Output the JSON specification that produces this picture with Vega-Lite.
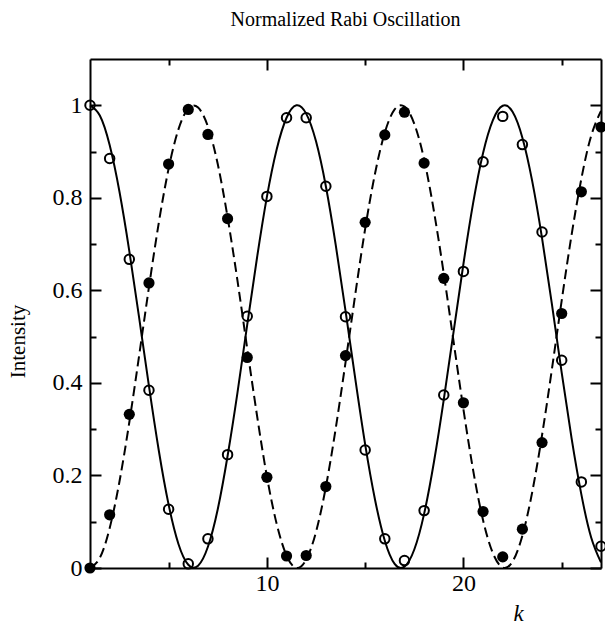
{
  "$schema": "https://vega.github.io/schema/vega-lite/v6.json",
  "width": 511,
  "height": 509,
  "autosize": {"type": "none"},
  "padding": {"left": 90, "top": 59, "right": 4, "bottom": 58},
  "background": "white",
  "config": {
    "view": {"stroke": null},
    "font": "Liberation Serif",
    "axis": {
      "grid": false,
      "domainColor": "black",
      "domainWidth": 2,
      "tickColor": "black",
      "tickWidth": 2,
      "labelFont": "Liberation Serif",
      "labelFontSize": 24,
      "labelColor": "black",
      "titleFont": "Liberation Serif",
      "titleColor": "black",
      "titleFontWeight": "normal"
    }
  },
  "title": {
    "text": "Normalized Rabi Oscillation",
    "font": "Liberation Serif",
    "fontSize": 20,
    "fontWeight": "normal",
    "color": "black",
    "anchor": "middle",
    "frame": "group",
    "offset": 28
  },
  "datasets": {
    "theory": [
      {"k": 1, "p": 1.0, "q": 0.0},
      {"k": 1.5, "p": 0.978, "q": 0.022},
      {"k": 2, "p": 0.914, "q": 0.086},
      {"k": 2.5, "p": 0.813, "q": 0.187},
      {"k": 3, "p": 0.685, "q": 0.315},
      {"k": 3.5, "p": 0.541, "q": 0.459},
      {"k": 4, "p": 0.393, "q": 0.607},
      {"k": 4.5, "p": 0.254, "q": 0.746},
      {"k": 5, "p": 0.137, "q": 0.863},
      {"k": 5.5, "p": 0.052, "q": 0.948},
      {"k": 6, "p": 0.007, "q": 0.993},
      {"k": 6.5, "p": 0.005, "q": 0.995},
      {"k": 7, "p": 0.046, "q": 0.954},
      {"k": 7.5, "p": 0.127, "q": 0.873},
      {"k": 8, "p": 0.242, "q": 0.758},
      {"k": 8.5, "p": 0.378, "q": 0.622},
      {"k": 9, "p": 0.526, "q": 0.474},
      {"k": 9.5, "p": 0.671, "q": 0.329},
      {"k": 10, "p": 0.802, "q": 0.198},
      {"k": 10.5, "p": 0.905, "q": 0.095},
      {"k": 11, "p": 0.973, "q": 0.027},
      {"k": 11.5, "p": 1.0, "q": 0.0},
      {"k": 12, "p": 0.982, "q": 0.018},
      {"k": 12.5, "p": 0.922, "q": 0.078},
      {"k": 13, "p": 0.825, "q": 0.175},
      {"k": 13.5, "p": 0.699, "q": 0.301},
      {"k": 14, "p": 0.556, "q": 0.444},
      {"k": 14.5, "p": 0.408, "q": 0.592},
      {"k": 15, "p": 0.267, "q": 0.733},
      {"k": 15.5, "p": 0.148, "q": 0.852},
      {"k": 16, "p": 0.059, "q": 0.941},
      {"k": 16.5, "p": 0.009, "q": 0.991},
      {"k": 17, "p": 0.003, "q": 0.997},
      {"k": 17.5, "p": 0.04, "q": 0.96},
      {"k": 18, "p": 0.117, "q": 0.883},
      {"k": 18.5, "p": 0.229, "q": 0.771},
      {"k": 19, "p": 0.364, "q": 0.636},
      {"k": 19.5, "p": 0.511, "q": 0.489},
      {"k": 20, "p": 0.657, "q": 0.343},
      {"k": 20.5, "p": 0.79, "q": 0.21},
      {"k": 21, "p": 0.897, "q": 0.103},
      {"k": 21.5, "p": 0.968, "q": 0.032},
      {"k": 22, "p": 0.999, "q": 0.001},
      {"k": 22.5, "p": 0.986, "q": 0.014},
      {"k": 23, "p": 0.93, "q": 0.07},
      {"k": 23.5, "p": 0.836, "q": 0.164},
      {"k": 24, "p": 0.713, "q": 0.287},
      {"k": 24.5, "p": 0.571, "q": 0.429},
      {"k": 25, "p": 0.422, "q": 0.578},
      {"k": 25.5, "p": 0.281, "q": 0.719},
      {"k": 26, "p": 0.159, "q": 0.841},
      {"k": 26.5, "p": 0.066, "q": 0.934},
      {"k": 27, "p": 0.012, "q": 0.988}
    ],
    "open": [
      {"k": 1, "intensity": 1.0}, {"k": 2, "intensity": 0.885}, {"k": 3, "intensity": 0.667},
      {"k": 4, "intensity": 0.384}, {"k": 5, "intensity": 0.127}, {"k": 6, "intensity": 0.009},
      {"k": 7, "intensity": 0.063}, {"k": 8, "intensity": 0.245}, {"k": 9, "intensity": 0.544},
      {"k": 10, "intensity": 0.803}, {"k": 11, "intensity": 0.973}, {"k": 12, "intensity": 0.973},
      {"k": 13, "intensity": 0.825}, {"k": 14, "intensity": 0.543}, {"k": 15, "intensity": 0.255},
      {"k": 16, "intensity": 0.063}, {"k": 17, "intensity": 0.016}, {"k": 18, "intensity": 0.124},
      {"k": 19, "intensity": 0.374}, {"k": 20, "intensity": 0.641}, {"k": 21, "intensity": 0.878},
      {"k": 22, "intensity": 0.976}, {"k": 23, "intensity": 0.915}, {"k": 24, "intensity": 0.726},
      {"k": 25, "intensity": 0.449}, {"k": 26, "intensity": 0.186}, {"k": 27, "intensity": 0.047}
    ],
    "filled": [
      {"k": 1, "intensity": 0.0}, {"k": 2, "intensity": 0.115}, {"k": 3, "intensity": 0.332},
      {"k": 4, "intensity": 0.616}, {"k": 5, "intensity": 0.873}, {"k": 6, "intensity": 0.991},
      {"k": 7, "intensity": 0.937}, {"k": 8, "intensity": 0.755}, {"k": 9, "intensity": 0.455},
      {"k": 10, "intensity": 0.196}, {"k": 11, "intensity": 0.026}, {"k": 12, "intensity": 0.027},
      {"k": 13, "intensity": 0.176}, {"k": 14, "intensity": 0.459}, {"k": 15, "intensity": 0.747},
      {"k": 16, "intensity": 0.936}, {"k": 17, "intensity": 0.985}, {"k": 18, "intensity": 0.875},
      {"k": 19, "intensity": 0.626}, {"k": 20, "intensity": 0.357}, {"k": 21, "intensity": 0.122},
      {"k": 22, "intensity": 0.024}, {"k": 23, "intensity": 0.084}, {"k": 24, "intensity": 0.271},
      {"k": 25, "intensity": 0.55}, {"k": 26, "intensity": 0.813}, {"k": 27, "intensity": 0.953}
    ]
  },
  "resolve": {"axis": {"x": "independent", "y": "independent"}},
  "layer": [
    {
      "data": {"name": "theory"},
      "mark": {"type": "line", "interpolate": "natural", "color": "black", "strokeWidth": 2},
      "encoding": {
        "x": {
          "field": "k", "type": "quantitative",
          "scale": {"domain": [1, 27], "nice": false, "zero": false},
          "axis": {
            "orient": "bottom",
            "values": [5, 10, 15, 20, 25],
            "tickSize": {"expr": "datum.value % 10 === 0 ? -11 : -6"},
            "labelPadding": 14,
            "labelExpr": "datum.value % 10 === 0 ? datum.label : ''",
            "title": "k",
            "titleFontStyle": "italic",
            "titleFontSize": 23,
            "titleX": 423,
            "titleY": 52,
            "titleBaseline": "alphabetic",
            "titleAnchor": "start"
          }
        },
        "y": {
          "field": "p", "type": "quantitative",
          "scale": {"domain": [0, 1.1], "nice": false},
          "axis": {
            "orient": "left",
            "values": [0, 0.1, 0.2, 0.3, 0.4, 0.5, 0.6, 0.7, 0.8, 0.9, 1.0],
            "tickSize": {"expr": "round(datum.value * 10) % 2 === 0 ? -11 : -6"},
            "labelPadding": 19,
            "labelExpr": "round(datum.value * 10) % 2 === 0 ? format(datum.value, '~g') : ''",
            "title": "Intensity",
            "titleFontSize": 21,
            "titleAngle": -90,
            "titleX": -66,
            "titleY": 282,
            "titleBaseline": "alphabetic",
            "titleAlign": "center"
          }
        }
      }
    },
    {
      "data": {"name": "theory"},
      "mark": {"type": "line", "interpolate": "natural", "color": "black", "strokeWidth": 2, "strokeDash": [10, 5]},
      "encoding": {
        "x": {"field": "k", "type": "quantitative", "axis": null},
        "y": {"field": "q", "type": "quantitative", "axis": null}
      }
    },
    {
      "data": {"name": "open"},
      "mark": {"type": "point", "shape": "circle", "filled": false, "color": "black", "strokeWidth": 2, "size": 90, "opacity": 1},
      "encoding": {
        "x": {"field": "k", "type": "quantitative", "axis": null},
        "y": {"field": "intensity", "type": "quantitative", "axis": null}
      }
    },
    {
      "data": {"name": "filled"},
      "mark": {"type": "point", "shape": "circle", "filled": true, "color": "black", "size": 125, "opacity": 1},
      "encoding": {
        "x": {
          "field": "k", "type": "quantitative",
          "axis": {
            "orient": "top",
            "values": [5, 10, 15, 20, 25],
            "tickSize": {"expr": "datum.value % 10 === 0 ? -11 : -6"},
            "labels": false,
            "title": null
          }
        },
        "y": {
          "field": "intensity", "type": "quantitative",
          "axis": {
            "orient": "right",
            "values": [0, 0.1, 0.2, 0.3, 0.4, 0.5, 0.6, 0.7, 0.8, 0.9, 1.0],
            "tickSize": {"expr": "round(datum.value * 10) % 2 === 0 ? -11 : -6"},
            "labels": false,
            "title": null
          }
        }
      }
    }
  ]
}
